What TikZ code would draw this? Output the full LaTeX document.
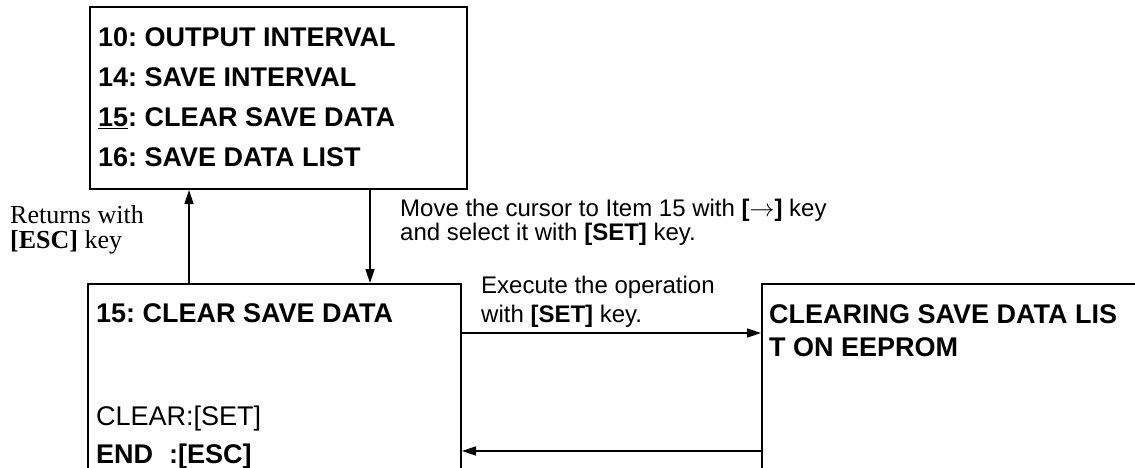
\documentclass[tikz,border=0pt]{standalone}
\usepackage{fontspec}
\setmainfont{Liberation Sans}
\newfontfamily\timesfont{Liberation Serif}
\usetikzlibrary{arrows.meta}
\frenchspacing
\begin{document}
\begin{tikzpicture}[x=1pt,y=-1pt,
  box/.style={draw, line width=2pt, rectangle, inner sep=0pt, anchor=north west},
  boxtxt/.style={anchor=base west, inner sep=0pt, font=\fontsize{27}{30}\selectfont\bfseries},
  boxreg/.style={anchor=base west, inner sep=0pt, font=\fontsize{27}{30}\selectfont},
  lbl/.style={anchor=base west, inner sep=0pt, font=\fontsize{24}{28}\selectfont},
  serlbl/.style={anchor=base west, inner sep=0pt, font=\fontsize{26}{28}\timesfont},
  conn/.style={line width=1.6pt, -{Triangle[length=14pt,width=9pt]}}]
\useasboundingbox (0,0) rectangle (1135,468);
\clip (0,0) rectangle (1135,468);
% boxes
\node[box, minimum width=377pt, minimum height=182pt] (menu) at (89,6) {};
\node[box, minimum width=373pt, minimum height=220pt] (ctrl) at (87,283) {};
\node[box, minimum width=400pt, minimum height=220pt] (msg) at (761,283) {};
% menu text
\node[boxtxt] (m1) at (98,47) {10: OUTPUT INTERVAL};
\node[boxtxt] (m2) at (98,87) {14: SAVE INTERVAL};
\node[boxtxt] (m3) at (98,127) {\underline{15}: CLEAR SAVE DATA};
\node[boxtxt] (m4) at (98,167) {16: SAVE DATA LIST};
% ctrl text
\node[boxtxt] (c1) at (96,322) {15: CLEAR SAVE DATA};
\node[boxreg] (c2) at (96,425) {CLEAR:[SET]};
\node[boxtxt] (c3) at (96,463) {END\hspace{16pt}:[ESC]};
% msg text
\node[boxtxt] (g1) at (769,323) {CLEARING SAVE DATA LIS};
\node[boxtxt] (g2) at (769,356) {T ON EEPROM};
% labels
\node[serlbl] (r1) at (10,223) {Returns with};
\node[serlbl] (r2) at (10,248) {\textbf{[ESC]} key};
\node[lbl] (s1) at (400,216) {Move the cursor to Item 15 with \textbf{[}$\rightarrow$\textbf{]} key};
\node[lbl] (s2) at (400,240) {and select it with \textbf{[SET]} key.};
\node[lbl] (e1) at (481,293) {Execute the operation};
\node[lbl] (e2) at (481,322) {with \textbf{[SET]} key.};
% connectors
\coordinate (upx) at (189,0);
\coordinate (dnx) at (370,0);
\coordinate (ry) at (0,333);
\coordinate (ly) at (0,451);
\draw[conn] (ctrl.north -| upx) -- (menu.south -| upx);
\draw[conn] (menu.south -| dnx) -- (ctrl.north -| dnx);
\draw[conn] (ctrl.east |- ry) -- (msg.west |- ry);
\draw[conn] (msg.west |- ly) -- (ctrl.east |- ly);
\end{tikzpicture}
\end{document}
